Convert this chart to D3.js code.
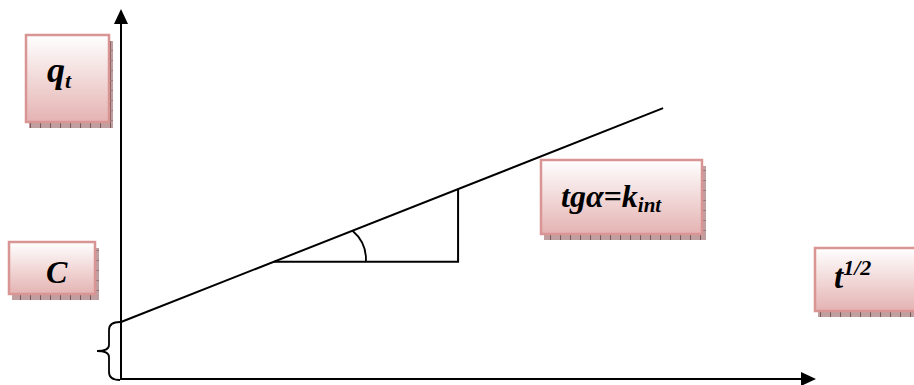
<!DOCTYPE html>
<html>
<head>
<meta charset="utf-8">
<script src="https://cdn.jsdelivr.net/npm/d3@7"></script>
<style>
  html, body { margin: 0; padding: 0; background: #fff; }
  svg { display: block; }
</style>
</head>
<body>
<svg id="chart" width="914" height="385"></svg>
<script>
// Intraparticle diffusion plot: q_t versus t^(1/2)
const xDomain = [0, 100];          // t^(1/2), arbitrary units
const yDomain = [0, 100];          // q_t, arbitrary units
const lineT = [0, 78];             // straight line, t^(1/2)
const lineQ = [15.4, 73.2];        // straight line, q_t (intercept C at t = 0)
const triT = [22, 48.5, 48.5];     // slope triangle corners, t^(1/2)
const triQ = [31.7, 31.7, 51.3];   // slope triangle corners, q_t
const interceptC = 15.4;           // brace spans 0 .. C on the q_t axis

const FONT = "'Liberation Serif', 'DejaVu Serif', serif";

const svg = d3.select("#chart");
const x = d3.scaleLinear().domain(xDomain).range([121, 816]);
const y = d3.scaleLinear().domain(yDomain).range([379, 9]);

// gradient + shadow pattern for the label boxes
const defs = svg.append("defs");
const grad = defs.append("linearGradient").attr("id", "boxFill")
  .attr("x1", 0).attr("y1", 0).attr("x2", 0).attr("y2", 1);
grad.append("stop").attr("offset", "0%").attr("stop-color", "#ffffff");
grad.append("stop").attr("offset", "100%").attr("stop-color", "#e4b3b2");
const pat = defs.append("pattern").attr("id", "shadowHatch")
  .attr("patternUnits", "userSpaceOnUse").attr("width", 10).attr("height", 10);
pat.append("rect").attr("width", 10).attr("height", 10).attr("fill", "#bf9f9f");
pat.append("rect").attr("x", 0).attr("y", 0).attr("width", 1).attr("height", 10).attr("fill", "#7a5555");
pat.append("rect").attr("x", 0).attr("y", 0).attr("width", 10).attr("height", 1).attr("fill", "#9a7777");

// label boxes with drop shadows
const boxes = [
  { x0: 26, y0: 35, x1: 109, y1: 122 },
  { x0: 9, y0: 242, x1: 95, y1: 294 },
  { x0: 541, y0: 160, x1: 702, y1: 234 },
  { x0: 815, y0: 248, x1: 925, y1: 311 }
];
boxes.forEach(b => {
  svg.append("rect")
    .attr("x", b.x0 + 3).attr("y", b.y0 + 6)
    .attr("width", b.x1 - b.x0 + 1).attr("height", b.y1 - b.y0)
    .attr("fill", "url(#shadowHatch)");
  svg.append("rect")
    .attr("x", b.x0).attr("y", b.y0)
    .attr("width", b.x1 - b.x0).attr("height", b.y1 - b.y0)
    .attr("fill", "url(#boxFill)")
    .attr("stroke", "#d99594").attr("stroke-width", 2.5);
});

// axes with arrowheads
const axisG = svg.append("g").attr("stroke", "#000").attr("stroke-width", 2).attr("fill", "none");
axisG.append("line").attr("x1", x(0)).attr("y1", y(0) + 1).attr("x2", x(0)).attr("y2", y(100) + 12);
axisG.append("line").attr("x1", x(0) - 1).attr("y1", y(0)).attr("x2", x(100) - 12).attr("y2", y(0));
svg.append("path")
  .attr("d", `M${x(0)},${y(100)} L${x(0) - 7},${y(100) + 15} L${x(0) + 7},${y(100) + 15} Z`)
  .attr("fill", "#000");
svg.append("path")
  .attr("d", `M${x(100)},${y(0)} L${x(100) - 15},${y(0) - 7} L${x(100) - 15},${y(0) + 7} Z`)
  .attr("fill", "#000");

// the straight line q_t = C + k_int * t^(1/2)
const pts = lineT.map((t, i) => [x(t), y(lineQ[i])]);
svg.append("path")
  .attr("d", d3.line()(pts))
  .attr("stroke", "#000").attr("stroke-width", 2).attr("fill", "none");

// slope triangle
const tri = triT.map((t, i) => [x(t), y(triQ[i])]);
svg.append("path")
  .attr("d", d3.line()(tri))
  .attr("stroke", "#000").attr("stroke-width", 2).attr("fill", "none");

// angle arc at the triangle's vertex
const vx = tri[0][0], vy = tri[0][1];
const ang = Math.atan2(pts[0][1] - pts[1][1], pts[1][0] - pts[0][0]);
const rs = 84.5, re = 92;
const sx = vx + rs * Math.cos(ang), sy = vy - rs * Math.sin(ang);
svg.append("path")
  .attr("d", `M${sx},${sy} A38,38 0 0 1 ${vx + re},${vy}`)
  .attr("stroke", "#000").attr("stroke-width", 1.8).attr("fill", "none");

// curly brace marking the intercept C
const bTop = y(interceptC), bBot = y(0) + 1, bMid = (bTop + bBot) / 2;
const bx = 109, bRight = x(0) - 1, tip = 97;
svg.append("path")
  .attr("d", `M${bRight},${bTop} Q${bx},${bTop} ${bx},${bTop + 8} L${bx},${bMid - 6} Q${bx},${bMid} ${tip},${bMid} Q${bx},${bMid} ${bx},${bMid + 6} L${bx},${bBot - 8} Q${bx},${bBot} ${bRight},${bBot}`)
  .attr("stroke", "#000").attr("stroke-width", 1.8).attr("fill", "none");

// labels
function label(px, py, size) {
  return svg.append("text").attr("x", px).attr("y", py)
    .attr("font-family", FONT).attr("font-weight", "bold").attr("font-style", "italic")
    .attr("font-size", size).attr("fill", "#000");
}
const q = label(47, 82, 36);
q.append("tspan").text("q");
q.append("tspan").attr("dy", 6).attr("font-size", 22).text("t");

label(46, 283, 32).text("C");

const k = label(561, 207, 32);
k.append("tspan").text("tgα=k");
k.append("tspan").attr("dy", 5).attr("font-size", 21).text("int");

const tl = label(834, 288, 33);
tl.append("tspan").text("t");
tl.append("tspan").attr("dy", -13).attr("font-size", 22).text("1/2");
</script>
</body>
</html>
